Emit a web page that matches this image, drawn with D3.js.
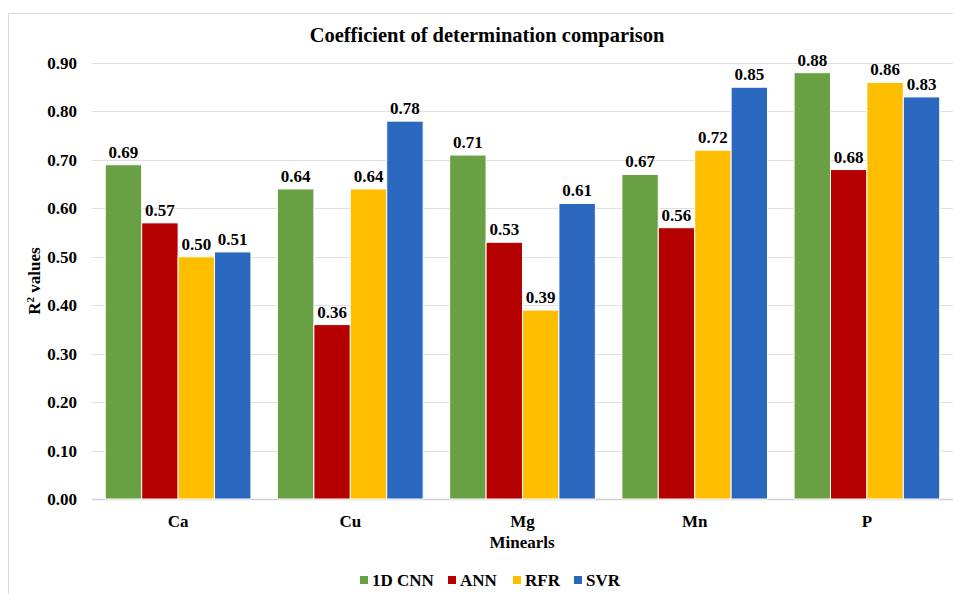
<!DOCTYPE html>
<html>
<head>
  <meta charset="utf-8">
  <title>Coefficient of determination comparison</title>
  <style>
    body { margin: 0; background: #fff; }
    text { font-family: "Liberation Serif", "Times New Roman", serif; font-weight: bold; fill: #000; }
  </style>
</head>
<body>
  <div id="chart"></div>
  <script src="https://d3js.org/d3.v7.min.js"></script>
  <script>
    const minerals = ['Ca', 'Cu', 'Mg', 'Mn', 'P'];
    const models = ['1D CNN', 'ANN', 'RFR', 'SVR'];
    const colors = ['#6aa044', '#b40000', '#ffbf00', '#2a67bf'];
    const cnn = [0.69, 0.64, 0.71, 0.67, 0.88];
    const ann = [0.57, 0.36, 0.53, 0.56, 0.68];
    const rfr = [0.50, 0.64, 0.39, 0.72, 0.86];
    const svr = [0.51, 0.78, 0.61, 0.85, 0.83];
    const yTicks = [0, 0.1, 0.2, 0.3, 0.4, 0.5, 0.6, 0.7, 0.8, 0.9];

    const series = [cnn, ann, rfr, svr];

    const W = 953, H = 594;
    const plot = { left: 92, right: 953, top: 63, bottom: 499 };

    const svg = d3.select('#chart').append('svg')
      .attr('width', W)
      .attr('height', H);

    // chart frame
    svg.append('rect')
      .attr('x', 8.5).attr('y', 13.5)
      .attr('width', W).attr('height', H)
      .attr('fill', 'none')
      .attr('stroke', '#d9d9d9');

    let x0 = d3.scaleBand()
      .domain(minerals)
      .range([plot.left, plot.right])
      .paddingInner(0.154)
      .paddingOuter(0.077);

    let x1 = d3.scaleBand()
      .domain(models)
      .range([0, x0.bandwidth()]);

    let y = d3.scaleLinear()
      .domain([0, 0.9])
      .range([plot.bottom, plot.top]);

    // gridlines
    svg.append('g')
      .selectAll('line')
      .data(yTicks)
      .join('line')
      .attr('x1', plot.left).attr('x2', plot.right)
      .attr('y1', d => Math.round(y(d)) + 0.5)
      .attr('y2', d => Math.round(y(d)) + 0.5)
      .attr('stroke', (d, i) => i === 0 ? '#d0d0d0' : '#e0e0e0')
      .attr('stroke-width', (d, i) => i === 0 ? 1.5 : 1);

    // y tick labels
    svg.append('g')
      .selectAll('text')
      .data(yTicks)
      .join('text')
      .attr('x', 77)
      .attr('y', d => y(d) + 6)
      .attr('text-anchor', 'end')
      .style('font-size', '17px')
      .text(d => d.toFixed(2));

    // bars
    const groups = svg.append('g')
      .selectAll('g')
      .data(minerals)
      .join('g')
      .attr('transform', d => `translate(${x0(d)},0)`);

    groups.selectAll('rect')
      .data((d, i) => models.map((m, j) => ({ m: m, v: series[j][i], c: colors[j] })))
      .join('rect')
      .attr('x', d => x1(d.m))
      .attr('y', d => y(d.v))
      .attr('width', x1.bandwidth())
      .attr('height', d => plot.bottom - y(d.v))
      .attr('fill', d => d.c)
      .attr('stroke', '#fff')
      .attr('stroke-width', 1);

    groups.selectAll('text')
      .data((d, i) => models.map((m, j) => ({ m: m, v: series[j][i] })))
      .join('text')
      .attr('x', d => x1(d.m) + x1.bandwidth() / 2)
      .attr('y', d => y(d.v) - 7)
      .attr('text-anchor', 'middle')
      .style('font-size', '17px')
      .text(d => d.v.toFixed(2));

    // category labels
    svg.append('g')
      .selectAll('text')
      .data(minerals)
      .join('text')
      .attr('x', d => x0(d) + x0.bandwidth() / 2)
      .attr('y', 527)
      .attr('text-anchor', 'middle')
      .style('font-size', '17px')
      .text(d => d);

    // title
    svg.append('text')
      .attr('x', 487)
      .attr('y', 42)
      .attr('text-anchor', 'middle')
      .style('font-size', '20.5px')
      .text('Coefficient of determination comparison');

    // axis titles
    svg.append('text')
      .attr('x', 522)
      .attr('y', 548)
      .attr('text-anchor', 'middle')
      .style('font-size', '17px')
      .text('Minearls');

    svg.append('text')
      .attr('transform', 'translate(40,281) rotate(-90)')
      .attr('text-anchor', 'middle')
      .style('font-size', '17px')
      .html('R<tspan dy="-6" font-size="11px">2</tspan><tspan dy="6"> values</tspan>');

    // legend
    const legendX = [360, 448, 513, 574];
    const legend = svg.append('g')
      .selectAll('g')
      .data(models)
      .join('g')
      .attr('transform', (d, i) => `translate(${legendX[i]},580)`);

    legend.append('rect')
      .attr('x', 0).attr('y', -4)
      .attr('width', 8).attr('height', 8)
      .attr('fill', (d, i) => colors[i]);

    legend.append('text')
      .attr('x', 12)
      .attr('y', 6)
      .style('font-size', '17px')
      .text(d => d);
  </script>
</body>
</html>
